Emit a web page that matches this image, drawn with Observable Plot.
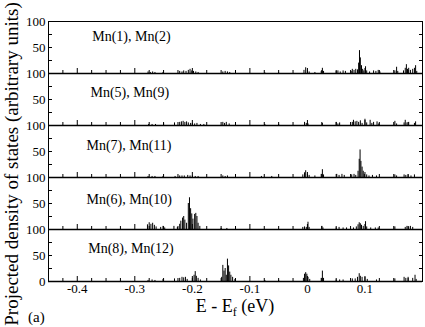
<!DOCTYPE html>
<html><head><meta charset="utf-8">
<script src="https://cdn.jsdelivr.net/npm/d3@7"></script>
<script src="https://cdn.jsdelivr.net/npm/@observablehq/plot@0.6"></script>
<style>
body{margin:0;background:#fff;}
#chart{position:relative;width:425px;height:327px;}
</style></head><body><div id="chart"></div>
<script>
// Panel names (atom pairs)
const panels = ["Mn(1), Mn(2)", "Mn(5), Mn(9)", "Mn(7), Mn(11)", "Mn(6), Mn(10)", "Mn(8), Mn(12)"];

// Projected DOS spikes per panel: [E - Ef (eV), value (arb. units)]
const mn1_2 = [[-0.277,3],[-0.273,2],[-0.269,3],[-0.265,2],[-0.251,2],
  [-0.222,4],[-0.218,3],[-0.215,5],[-0.211,4],[-0.207,6],[-0.204,8],[-0.201,5],[-0.198,4],[-0.194,3],[-0.190,2],
  [-0.147,3],[-0.143,4],[-0.139,3],[-0.135,2],[-0.074,1],[-0.050,1],
  [-0.006,6],[-0.003,11],[0.000,6],[0.003,3],[0.013,2],[0.024,4],[0.026,10],[0.028,4],
  [0.050,4],[0.053,5],[0.057,3],[0.062,5],[0.066,4],
  [0.076,4],[0.078,8],[0.081,6],[0.084,8],[0.087,7],[0.089,20],[0.0905,44],[0.092,30],[0.094,15],[0.096,8],[0.098,5],[0.101,13],[0.103,5],[0.108,3],
  [0.115,5],[0.119,4],[0.123,6],[0.126,3],
  [0.152,5],[0.155,12],[0.157,4],
  [0.167,5],[0.170,10],[0.172,17],[0.174,8],[0.176,10],[0.179,6],[0.183,8],[0.186,10],[0.188,15],[0.190,4]];
const mn5_9 = [[-0.276,2],[-0.270,2],[-0.264,2],[-0.250,4],
  [-0.231,5],[-0.222,6],[-0.219,7],[-0.216,8],[-0.213,6],[-0.210,7],[-0.207,5],[-0.203,4],[-0.200,4],[-0.196,3],[-0.192,4],[-0.186,2],[-0.180,2],
  [-0.147,6],[-0.144,4],[-0.141,6],[-0.136,3],[-0.074,2],[-0.050,2],
  [-0.005,6],[-0.002,4],[0.001,3],[0.026,4],
  [0.050,6],[0.053,3],[0.056,5],
  [0.078,6],[0.080,10],[0.083,7],[0.086,8],[0.089,6],[0.092,9],[0.095,4],[0.100,12],[0.103,5],[0.109,10],[0.112,4],[0.115,6],[0.121,7],[0.124,3],
  [0.152,8],[0.155,3],[0.168,5],[0.170,10],[0.173,5],[0.176,6],[0.186,4],[0.188,7]];
const mn7_11 = [[-0.277,2],[-0.270,2],[-0.265,2],[-0.251,2],
  [-0.230,2],[-0.222,3],[-0.218,3],[-0.214,3],[-0.208,4],[-0.204,3],[-0.200,3],[-0.195,2],[-0.190,2],
  [-0.147,3],[-0.143,2],[-0.139,3],[-0.080,2],[-0.062,2],
  [-0.008,5],[-0.005,9],[-0.003,13],[0.000,6],[0.003,4],[0.013,3],
  [0.024,6],[0.026,15],[0.028,5],
  [0.051,6],[0.055,4],[0.060,6],[0.064,4],
  [0.077,5],[0.081,6],[0.084,4],[0.088,12],[0.090,35],[0.0915,53],[0.093,31],[0.095,20],[0.097,12],[0.099,6],[0.103,5],[0.107,3],[0.113,4],[0.120,3],
  [0.152,5],[0.155,3],[0.168,5],[0.171,4],[0.175,5],[0.180,3],[0.186,5]];
const mn6_10 = [[-0.278,9],[-0.275,13],[-0.272,10],[-0.269,12],[-0.266,8],[-0.263,5],
  [-0.255,4],[-0.251,6],[-0.248,3],[-0.232,6],[-0.226,4],
  [-0.222,10],[-0.220,16],[-0.217,22],[-0.215,25],[-0.213,18],[-0.210,12],[-0.207,50],[-0.205,61],[-0.203,40],[-0.201,30],[-0.199,20],[-0.196,29],[-0.194,31],[-0.192,25],[-0.190,12],[-0.187,6],
  [-0.150,2],[-0.140,2],
  [-0.008,4],[-0.005,5],[-0.002,4],[0.001,14],[0.003,4],
  [0.025,6],[0.027,3],
  [0.050,3],[0.055,4],[0.062,3],[0.068,3],
  [0.080,3],[0.085,5],[0.088,9],[0.090,13],[0.092,11],[0.094,8],[0.097,6],[0.101,15],[0.103,5],
  [0.110,3],[0.118,3],[0.123,3],
  [0.152,5],[0.170,4],[0.173,6],[0.176,5],[0.179,6],[0.183,4]];
const mn8_12 = [[-0.277,2],[-0.270,3],[-0.265,2],[-0.251,4],
  [-0.231,5],[-0.222,6],[-0.218,8],[-0.215,7],[-0.212,8],[-0.209,4],
  [-0.200,6],[-0.197,12],[-0.195,19],[-0.193,10],[-0.190,6],[-0.186,3],
  [-0.149,8],[-0.147,31],[-0.145,20],[-0.143,25],[-0.141,12],[-0.139,43],[-0.137,30],[-0.135,18],[-0.133,12],[-0.130,8],[-0.126,4],
  [-0.074,2],[-0.050,2],
  [-0.007,6],[-0.005,14],[-0.003,17],[-0.001,14],[0.001,8],[0.004,4],
  [0.024,6],[0.026,20],[0.028,6],
  [0.050,3],[0.056,3],[0.062,3],
  [0.078,5],[0.083,5],[0.087,8],[0.090,15],[0.092,10],[0.095,8],[0.100,8],[0.104,4],
  [0.120,3],
  [0.152,5],[0.168,8],[0.171,6],[0.175,8],[0.183,6],[0.187,12],[0.189,4]];
const series = [mn1_2, mn5_9, mn7_11, mn6_10, mn8_12];

// Panel label anchors (data space)
const labelE = [-0.374, -0.377, -0.384, -0.384, -0.381];
const labelY = [72, 64, 62, 58, 64];

// Tick values
const xMajor = [-0.4, -0.3, -0.2, -0.1, 0, 0.1];
const xMinor = d3.range(-18, 9).map(i => +(i * 0.025).toFixed(3)).filter(v => !xMajor.includes(v));
const yLabelTicks = [50, 100];
const yInnerTicks = [25, 50, 75];

const rows = panels.flatMap((p, i) => series[i].map(([e, h]) => ({panel: p, e, h})));
const labels = panels.map((p, i) => ({panel: p, e: labelE[i], y: labelY[i]}));
const serif = "'Liberation Serif', 'Times New Roman', serif";

const plot = Plot.plot({
  width: 425, height: 327,
  marginTop: 20, marginBottom: 46, marginLeft: 48, marginRight: 3,
  style: {fontFamily: serif, fontSize: "13px", background: "white", color: "black"},
  x: {domain: [-0.45, 0.2]},
  y: {domain: [0, 100]},
  fy: {domain: panels, padding: 0, axis: null},
  marks: [
    Plot.ruleX(rows, {x: "e", y1: 0, y2: "h", fy: "panel", stroke: "black", strokeWidth: 1}),
    Plot.ruleY([0], {stroke: "black", strokeWidth: 1.5}),
    Plot.frame({stroke: "black", strokeWidth: 1}),
    Plot.axisY({ticks: yLabelTicks, tickSize: 0, tickPadding: 3, label: null, fontSize: 13}),
    Plot.axisY({ticks: [0], tickSize: 0, tickPadding: 3, label: null, fontSize: 13, facetAnchor: "bottom"}),
    Plot.axisY({ticks: yInnerTicks, tickSize: -4, fill: "none", label: null}),
    Plot.axisY({anchor: "right", ticks: yInnerTicks, tickSize: -4, fill: "none", label: null}),
    Plot.axisX({ticks: xMajor, tickSize: -5, fill: "none", label: null, facetAnchor: null}),
    Plot.axisX({ticks: xMinor, tickSize: -3, fill: "none", label: null, facetAnchor: null}),
    Plot.axisX({ticks: xMajor, tickSize: 0, tickPadding: 2, label: null, fontSize: 13, facetAnchor: "bottom",
      tickFormat: d => d === 0 ? "0" : d.toFixed(1)}),
    Plot.text(labels, {fy: "panel", x: "e", y: "y", text: "panel", textAnchor: "start", fontSize: 14, fill: "black"})
  ]
});

const svg = d3.select(plot);
svg.append("text")
  .attr("transform", "translate(11,164) rotate(-90)")
  .attr("text-anchor", "middle").attr("dominant-baseline", "central")
  .attr("font-family", serif).attr("font-size", 19).attr("fill", "black")
  .text("Projected density of states (arbitrary units)");
const xl = svg.append("text")
  .attr("x", 235).attr("y", 312).attr("text-anchor", "middle")
  .attr("font-family", serif).attr("font-size", 18).attr("fill", "black");
xl.append("tspan").text("E - E");
xl.append("tspan").attr("font-size", 12).attr("dy", 4).text("f");
xl.append("tspan").attr("dy", -4).text(" (eV)");
svg.append("text")
  .attr("x", 28).attr("y", 322).attr("text-anchor", "start")
  .attr("font-family", serif).attr("font-size", 15).attr("fill", "black")
  .text("(a)");

document.getElementById("chart").appendChild(plot);
</script></body></html>
